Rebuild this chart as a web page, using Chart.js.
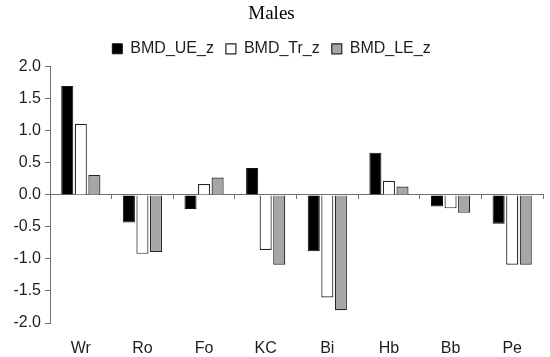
<!DOCTYPE html>
<html>
<head>
<meta charset="utf-8">
<script src="https://cdn.jsdelivr.net/npm/chart.js@4"></script>
<style>
  html, body { margin: 0; padding: 0; background: #fff; }
  #wrap { width: 550px; height: 357px; }
</style>
</head>
<body>
<div id="wrap"><canvas id="chart"></canvas></div>
<script>
// categories and z-scores
const sites = ["Wr", "Ro", "Fo", "KC", "Bi", "Hb", "Bb", "Pe"];
const ueZ = [1.70, -0.43, -0.22, 0.42, -0.88, 0.66, -0.18, -0.45];
const trZ = [1.11, -0.92, 0.17, -0.86, -1.60, 0.22, -0.21, -1.09];
const leZ = [0.31, -0.89, 0.27, -1.09, -1.80, 0.13, -0.28, -1.09];

const axisGray = '#707070';
const textColor = '#1e1e1e';
const sans = "'Liberation Sans', Arial, sans-serif";

const ctx = document.getElementById('chart').getContext('2d');
new Chart(ctx, {
    type: 'bar',
    data: {
        labels: sites,
        datasets: [
            { label: 'BMD_UE_z', data: ueZ, backgroundColor: '#000000', borderColor: '#111', borderWidth: 1 },
            { label: 'BMD_Tr_z', data: trZ, backgroundColor: '#ffffff', borderColor: '#262626', borderWidth: 1.2 },
            { label: 'BMD_LE_z', data: leZ, backgroundColor: '#a6a6a6', borderColor: '#262626', borderWidth: 1.2 }
        ]
    },
    options: {
        responsive: true,
        maintainAspectRatio: false,
        animation: false,
        categoryPercentage: 0.66,
        barPercentage: 0.89,
        layout: { padding: { right: 7 } },
        plugins: {
            title: {
                display: true,
                text: 'Males',
                color: '#000',
                font: { family: "'Liberation Serif', 'Times New Roman', serif", size: 19, weight: 'normal' },
                padding: { top: 3, bottom: 3 }
            },
            legend: {
                labels: {
                    color: textColor,
                    font: { family: sans, size: 16 },
                    boxWidth: 10,
                    boxHeight: 10,
                    padding: 12
                }
            },
            tooltip: { enabled: false }
        },
        scales: {
            x: {
                grid: { display: false },
                border: { display: false },
                ticks: { color: textColor, font: { family: sans, size: 16 }, padding: 8 },
                afterFit(scale) { scale.height = 34; }
            },
            x2: {
                type: 'category',
                labels: sites,
                position: { y: 0 },
                offset: true,
                grid: { offset: true, drawOnChartArea: false, drawTicks: true, tickLength: 4, color: axisGray },
                border: { display: true, color: axisGray },
                ticks: { display: false }
            },
            y: {
                min: -2,
                max: 2,
                ticks: {
                    stepSize: 0.5,
                    color: textColor,
                    font: { family: sans, size: 16 },
                    padding: 4,
                    callback: v => v.toFixed(1)
                },
                grid: { drawOnChartArea: false, drawTicks: true, tickLength: 5, color: axisGray },
                border: { display: true, color: axisGray },
                afterFit(scale) { scale.width = 50; }
            }
        }
    }
});
</script>
</body>
</html>
